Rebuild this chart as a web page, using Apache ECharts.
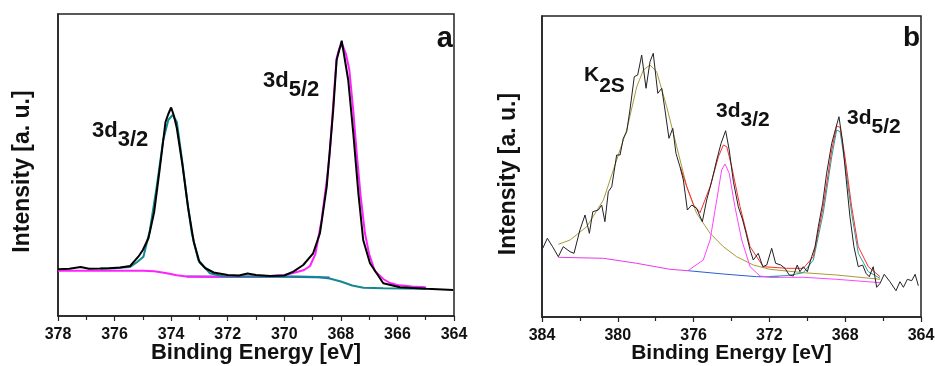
<!DOCTYPE html>
<html>
<head>
<meta charset="utf-8">
<script src="https://cdn.jsdelivr.net/npm/echarts@6/dist/echarts.min.js"></script>
<style>
  html, body { margin: 0; padding: 0; background: #fff; }
  #main { width: 935px; height: 366px; }
</style>
</head>
<body>
<div id="main"></div>
<script>
// 面板 a 数据 [结合能 eV, 强度 a.u.]
var aMeasured = [[378,46.7],[377.6,47.3],[377.2,49],[376.9,47.3],[376.5,47.5],[376.2,47.7],[375.8,48.5],[375.45,50],[375.16,59.3],[375.0,66],[374.8,78],[374.6,104],[374.4,148],[374.2,194],[374.1,202],[374.0,208.5],[373.9,200],[373.8,188],[373.6,151],[373.4,108],[373.2,74],[373.0,54],[372.8,48],[372.5,43.5],[372,41],[371.6,40.5],[371.3,42.5],[371,41],[370.5,40],[370,40.5],[369.68,44.3],[369.33,51],[368.98,62.7],[368.74,82.7],[368.5,129.3],[368.27,206],[368.15,256],[367.97,275.3],[367.74,236],[367.56,182.7],[367.38,122.7],[367.21,76],[366.97,52.7],[366.5,32.7],[365.91,28.7],[364.97,27.3],[364.03,26]];
var aFit32 = [[376.5,47.5],[376,47.8],[375.7,48.5],[375.45,49],[375.2,54],[374.98,59.3],[374.75,86],[374.51,129.3],[374.28,176],[374.10,196],[373.95,201],[373.80,194.3],[373.63,159.3],[373.45,119.3],[373.27,82.7],[373.04,56],[372.63,42.7],[372.16,39.8],[371.5,39.5],[370.5,39.5],[369.5,39.5],[368.8,39],[368.4,37.5],[368,34.5],[367.6,30.5],[367.2,28.2],[366.5,27.7],[365,27.3]];
var aFit52 = [[378,45.3],[376,45.3],[375,45.3],[374.6,44.8],[374.2,43],[373.8,40.8],[373.45,39.5],[373,39.3],[372,39.3],[371,39.3],[370.5,40],[370,41],[369.68,43],[369.3,46],[369.09,50],[368.9,62],[368.68,96],[368.5,135],[368.39,163],[368.25,220],[368.15,257.7],[368.05,268],[367.94,271],[367.82,262],[367.70,246],[367.56,205],[367.44,163],[367.3,120],[367.15,83],[367.0,62],[366.80,45],[366.5,37],[366.26,33],[366,31],[365.5,29.5],[365,28.7]];
var aBkgMid = [[373.45,39.4],[372,39.3],[370,39.3],[368.4,38.5]];

// 面板 b 数据
var bMeasured = [[383.96,68.7],[383.72,78.7],[383.44,70.3],[383.14,60.3],[382.88,70.3],[382.52,65.3],[382.31,63.7],[382.0,87],[381.73,102],[381.50,83.7],[381.32,105.3],[381.03,107],[380.85,112],[380.68,95.3],[380.50,125.3],[380.32,130.3],[380.06,162],[379.88,162],[379.71,178.7],[379.53,185.3],[379.36,207],[379.13,240.3],[378.95,242],[378.74,262],[378.51,228.7],[378.30,255.3],[378.13,263.7],[377.89,223.7],[377.68,228.7],[377.51,207],[377.30,178.7],[377.10,188.7],[376.93,163.7],[376.72,150.3],[376.54,137],[376.33,107],[376.10,112],[375.84,108.7],[375.54,95.3],[375.31,117],[375.05,135.3],[374.78,157],[374.55,173.7],[374.31,186.3],[374.12,167],[373.90,135.3],[373.64,110.3],[373.41,97],[373.23,83.7],[373.02,67],[372.85,57],[372.59,63.7],[372.35,50.3],[372.14,52],[371.88,68.7],[371.67,53.7],[371.40,52],[371.18,48.7],[370.95,42],[370.74,41],[370.53,52],[370.39,45.3],[370.21,50.3],[370.0,45.3],[369.77,60.3],[369.59,70.3],[369.42,90.3],[369.19,113.7],[368.98,143.7],[368.71,173.7],[368.50,188.7],[368.33,200.3],[368.15,177],[367.96,140.3],[367.75,100.3],[367.54,70.3],[367.31,50.3],[367.08,52],[366.90,43.7],[366.73,40.3],[366.52,50.3],[366.34,29.7],[366.16,33.7],[365.94,42.7],[365.64,35.3],[365.32,26.3],[365.11,35.3],[364.93,29.7],[364.72,37.7],[364.49,36.3],[364.31,42.7],[364.14,31.3]];
var bK2S = [[383.14,72.7],[382.52,77],[381.64,90.3],[380.76,117],[380.06,157],[379.53,187],[379.0,230.3],[378.65,247],[378.30,252],[377.95,245.3],[377.42,210.3],[376.89,170.3],[376.36,130.3],[375.84,103.7],[375.13,83.7],[374.43,70.3],[373.73,60.3],[372.85,52],[371.97,47.7],[370.21,44.3],[368.45,42],[366.16,37.7]];
var bBkgLeft = [[383.14,59.7],[380.76,58.7],[379.0,53.7],[377.25,47.7],[376.3,46.3]];
var bBkgMid = [[376.3,46.3],[374.43,43],[372.67,40.3],[371.5,40]];
var bFit32 = [[376.3,46.3],[375.49,57],[375.13,77],[374.78,117],[374.52,147],[374.34,153],[374.12,143.7],[373.82,110.3],[373.46,77],[373.02,50.3],[372.50,41],[371.97,39.7],[370.21,39.7],[368.45,37.7],[366.16,34.3]];
var bEnvelope = [[376.7,150],[376.36,130.3],[376.0,112],[375.66,104.3],[375.13,130.3],[374.69,160.3],[374.43,172],[374.25,170.3],[373.99,150.3],[373.55,110.3],[373.02,70.3],[372.32,50.3],[371.09,48.7],[370.21,48.7],[369.68,60.3],[369.16,110.3],[368.71,167],[368.45,191],[368.27,189.7],[368.01,160.3],[367.66,110.3],[367.31,70.3],[366.78,50.3],[366.16,40.3]];
var bFit52 = [[372.0,40.5],[371.0,41.5],[370.21,44.3],[369.68,57],[369.16,103.7],[368.71,160.3],[368.45,187],[368.27,185.3],[368.01,153.7],[367.66,103.7],[367.31,63.7],[366.78,45.3],[366.16,38.7]];

var font = 'Arial, "Liberation Sans", sans-serif';

var myChart = echarts.init(document.getElementById('main'));

// 量文字宽度, 用来放下标
var cv = document.createElement('canvas').getContext('2d');
function textW(str, size) {
  cv.font = 'bold ' + size + 'px ' + font;
  return cv.measureText(str).width;
}

function line(name, data, color, width, idx) {
  return {
    name: name,
    type: 'line',
    xAxisIndex: idx,
    yAxisIndex: idx,
    data: data,
    showSymbol: false,
    silent: true,
    lineStyle: { color: color, width: width },
    z: 3
  };
}

function xAx(idx, min, max, interval, nameSize) {
  return {
    type: 'value',
    gridIndex: idx,
    inverse: true,
    min: min,
    max: max,
    interval: interval,
    name: 'Binding Energy [eV]',
    nameLocation: 'middle',
    nameGap: 26,
    nameMoveOverlap: false,
    nameTextStyle: { fontFamily: font, fontWeight: 'bold', fontSize: nameSize, color: '#111' },
    axisLine: { show: true, lineStyle: { color: '#222', width: 1.5 } },
    axisTick: { show: true, inside: false, length: 5, lineStyle: { color: '#222', width: 1.2 } },
    minorTick: { show: true, splitNumber: 2, length: 4, lineStyle: { color: '#222', width: 1.2 } },
    axisLabel: { fontFamily: font, fontWeight: 'bold', fontSize: 16, color: '#111', margin: 11 },
    splitLine: { show: false },
    minorSplitLine: { show: false }
  };
}

function yAx(idx, max) {
  return {
    type: 'value',
    gridIndex: idx,
    min: 0,
    max: max,
    axisLine: { show: true, lineStyle: { color: '#222', width: 1.5 } },
    axisTick: { show: false },
    axisLabel: { show: false },
    splitLine: { show: false }
  };
}

// 主文字 + 下标, base 为主文字基线
function peakLabel(x, base, main, sub, size, drop) {
  var w = textW(main, size);
  return [
    { type: 'text', x: x, y: base - 0.8 * size,
      style: { text: main, fontFamily: font, fontWeight: 'bold', fontSize: size, fill: '#111', verticalAlign: 'top' } },
    { type: 'text', x: x + w, y: base + drop - 0.8 * size,
      style: { text: sub, fontFamily: font, fontWeight: 'bold', fontSize: size, fill: '#111', verticalAlign: 'top' } }
  ];
}

function yName(x, y) {
  return {
    type: 'text', x: x, y: y, rotation: Math.PI / 2,
    style: { text: 'Intensity [a. u.]', fontFamily: font, fontWeight: 'bold', fontSize: 23, fill: '#111', align: 'center', verticalAlign: 'middle' }
  };
}

var graphics = [].concat(
  peakLabel(92, 138, '3d', '3/2', 22, 9),
  peakLabel(263, 88, '3d', '5/2', 22, 9),
  peakLabel(584, 82, 'K', '2S', 21, 11),
  peakLabel(716, 118, '3d', '3/2', 21, 9),
  peakLabel(847, 125, '3d', '5/2', 21, 9),
  [
    yName(23, 171.5),
    yName(508.5, 174),
    { type: 'text', x: 453, y: 24, style: { text: 'a', fontFamily: font, fontWeight: 'bold', fontSize: 29, fill: '#111', align: 'right' } },
    { type: 'text', x: 920, y: 24, style: { text: 'b', fontFamily: font, fontWeight: 'bold', fontSize: 28, fill: '#111', align: 'right' } }
  ]
);

var option = {
  animation: false,
  backgroundColor: '#fff',
  grid: [
    { left: 58, top: 14, width: 396, height: 302, outerBoundsMode: 'none', show: true, borderColor: '#222', borderWidth: 1.5, backgroundColor: 'transparent' },
    { left: 542, top: 16, width: 379, height: 301, outerBoundsMode: 'none', show: true, borderColor: '#222', borderWidth: 1.5, backgroundColor: 'transparent' }
  ],
  xAxis: [xAx(0, 364, 378, 2, 22), xAx(1, 364, 384, 4, 21)],
  yAxis: [yAx(0, 302), yAx(1, 301)],
  series: [
    line('bkg-a-mid', aBkgMid, '#3a4fd0', 2, 0),
    line('fit-52-a', aFit52, '#ff22ff', 2, 0),
    line('fit-32-a', aFit32, '#12898f', 2, 0),
    line('exp-a', aMeasured, '#000000', 2, 0),
    line('bkg-b-left', bBkgLeft, '#e83ae8', 1, 1),
    line('bkg-b-mid', bBkgMid, '#2a5fd0', 1, 1),
    line('K2S', bK2S, '#a89a3c', 1, 1),
    line('fit-32-b', bFit32, '#ff44ff', 1, 1),
    line('fit-52-b', bFit52, '#22a0a0', 1, 1),
    line('sum-b', bEnvelope, '#ff2a2a', 1, 1),
    line('exp-b', bMeasured, '#222222', 1, 1)
  ],
  graphic: graphics
};

option && myChart.setOption(option);
</script>
</body>
</html>
